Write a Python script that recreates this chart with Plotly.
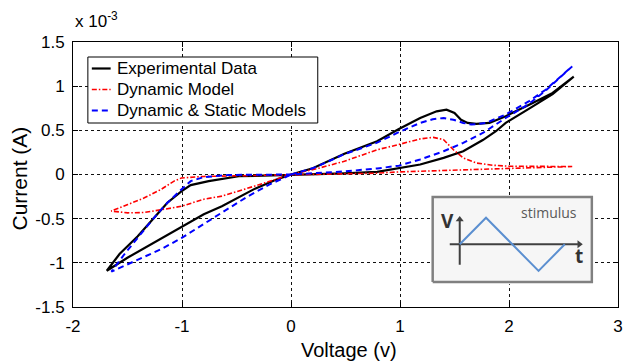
import plotly.graph_objects as go

# ---------------- data (current in units of 1e-3 A) ----------------
exp_v = [0, 0.2, 0.49, 0.79, 0.99, 1.185, 1.336, 1.427, 1.50, 1.56, 1.62, 1.70, 1.82, 1.97, 2.185, 2.40, 2.594,
         2.45, 2.40, 2.185, 1.97, 1.88, 1.76, 1.58, 1.40, 1.185, 0.99, 0.79, 0.49, 0.2, 0,
         -0.3, -0.48, -0.755, -0.92, -1.006, -1.134, -1.27, -1.406, -1.573, -1.69,
         -1.497, -1.194, -1.006, -0.80, -0.634, -0.33, -0.15, 0]
exp_i = [0, 0.07, 0.235, 0.376, 0.515, 0.64, 0.715, 0.734, 0.696, 0.62, 0.584, 0.573, 0.584, 0.66, 0.79, 0.923, 1.107,
         0.96, 0.91, 0.745, 0.584, 0.49, 0.39, 0.263, 0.188, 0.113, 0.068, 0.03, 0.012, 0.003, 0,
         -0.008, -0.02, -0.075, -0.12, -0.19, -0.32, -0.51, -0.70, -0.90, -1.09,
         -0.94, -0.725, -0.59, -0.45, -0.36, -0.16, -0.065, 0]

dyn_v = [0, 0.25, 0.49, 0.79, 0.99, 1.185, 1.305, 1.40, 1.49, 1.58, 1.70, 1.85, 2.0, 2.3, 2.58,
         2.3, 2.0, 1.7, 1.4, 1.0, 0.79, 0.49, 0.25, 0,
         -0.25, -0.5, -0.8, -1.006, -1.073, -1.194, -1.345, -1.497, -1.65,
         -1.497, -1.345, -1.194, -1.006, -0.80, -0.634, -0.33, 0]
dyn_i = [0, 0.07, 0.15, 0.28, 0.34, 0.403, 0.42, 0.395, 0.28, 0.188, 0.13, 0.105, 0.094, 0.09, 0.09,
         0.08, 0.07, 0.058, 0.045, 0.03, 0.015, 0.008, 0.003, 0,
         -0.005, -0.012, -0.022, -0.04, -0.075, -0.17, -0.264, -0.34, -0.414,
         -0.434, -0.43, -0.40, -0.36, -0.28, -0.245, -0.13, 0]

ds_v = [0, 0.2, 0.49, 0.79, 0.99, 1.185, 1.30, 1.40, 1.49, 1.58, 1.655, 1.79, 1.97, 2.185, 2.336, 2.58,
        2.336, 2.185, 1.97, 1.76, 1.58, 1.40, 1.185, 0.99, 0.79, 0.49, 0.2, 0,
        -0.3, -0.57, -0.80, -0.92, -1.006, -1.134, -1.27, -1.406, -1.527, -1.648,
        -1.497, -1.194, -1.006, -0.80, -0.6, -0.4, -0.2, 0]
ds_i = [0, 0.07, 0.23, 0.36, 0.48, 0.584, 0.625, 0.64, 0.62, 0.584, 0.565, 0.584, 0.68, 0.83, 0.96, 1.224,
        0.95, 0.80, 0.64, 0.47, 0.358, 0.263, 0.17, 0.10, 0.068, 0.035, 0.01, 0,
        -0.003, -0.005, -0.03, -0.075, -0.17, -0.32, -0.51, -0.716, -0.90, -1.10,
        -1.017, -0.847, -0.72, -0.56, -0.40, -0.25, -0.115, 0]

series_names = ["Experimental Data", "Dynamic Model", "Dynamic & Static Models"]

x_ticks = [-2, -1, 0, 1, 2, 3]
x_ticktext = ["-2", "-1", "0", "1", "2", "3"]
y_ticks = [-1.5, -1, -0.5, 0, 0.5, 1, 1.5]
y_ticktext = ["-1.5", "-1", "-0.5", "0", "0.5", "1", "1.5"]

# inset stimulus waveform
stim_t = [0, 1, 2, 3, 4]
stim_v = [0, 1, 0, -1, 0]

FONT = "Liberation Sans, Arial, sans-serif"

# plot area in pixels: left 73, right 623, top 42, bottom 307
L, R, T, B = 73, 623, 42, 307
def px(xp):
    return (xp - L) / (R - L)
def py(yp):
    return (B - yp) / (B - T)

styles = [
    dict(color="#000000", width=2.2, dash="solid"),
    dict(color="#ff0000", width=1.6, dash="5px,2px,1.5px,2px"),
    dict(color="#0000ff", width=2.0, dash="6px,4px"),
]

fig = go.Figure()
for (xv, yv), name, st in zip([(exp_v, exp_i), (dyn_v, dyn_i), (ds_v, ds_i)], series_names, styles):
    fig.add_trace(go.Scatter(x=xv, y=yv, mode="lines", name=name, line=st,
                             showlegend=False, hoverinfo="skip"))

# inset background (frame), axes with arrowheads, and stimulus waveform
inset = dict(xaxis="x2", yaxis="y2", showlegend=False, hoverinfo="skip")
fig.add_trace(go.Scatter(x=[-1.03, 5.03, 5.03, -1.03, -1.03], y=[-1.417, -1.417, 1.778, 1.778, -1.417],
                         mode="lines", fill="toself", fillcolor="#f6f6f6",
                         line=dict(color="#808080", width=2.5), **inset))
fig.add_trace(go.Scatter(x=[0, 0], y=[-0.77, 0.9], mode="lines",
                         line=dict(color="#404040", width=2), **inset))
fig.add_trace(go.Scatter(x=[-0.38, 4.5], y=[0, 0], mode="lines",
                         line=dict(color="#404040", width=2), **inset))
fig.add_trace(go.Scatter(x=[0], y=[0.93], mode="markers",
                         marker=dict(symbol="triangle-up", size=7, color="#404040"), **inset))
fig.add_trace(go.Scatter(x=[4.55], y=[0], mode="markers",
                         marker=dict(symbol="triangle-right", size=7, color="#404040"), **inset))
fig.add_trace(go.Scatter(x=stim_t, y=stim_v, mode="lines", line=dict(color="#5b8fd0", width=2), **inset))

axis_common = dict(showline=True, linecolor="black", linewidth=1, mirror="ticks",
                   ticks="inside", ticklen=5, tickcolor="black", tickwidth=1,
                   showgrid=True, gridcolor="#111111", gridwidth=1, griddash="3px,3px",
                   zeroline=False, tickfont=dict(family=FONT, size=17, color="black"))
hidden = dict(showticklabels=False, showgrid=False, zeroline=False, showline=False, ticks="")

fig.update_layout(
    width=628, height=363,
    margin=dict(l=L, r=628 - R, t=T, b=363 - B),
    paper_bgcolor="white", plot_bgcolor="white",
    font=dict(family=FONT, color="black"),
    xaxis=dict(range=[-2, 3], tickvals=x_ticks, ticktext=x_ticktext, ticklabelstandoff=4, **axis_common),
    yaxis=dict(range=[-1.5, 1.5], tickvals=y_ticks, ticktext=y_ticktext, ticklabelstandoff=4, **axis_common),
    xaxis2=dict(domain=[0.6566, 0.9554], range=[-1.1, 5.1], anchor="y2", **hidden),
    yaxis2=dict(domain=[0.086, 0.4223], range=[-1.5, 1.85], anchor="x2", **hidden),
    showlegend=False,
)

# ---- manual legend (MATLAB style) ----
shapes = [dict(type="rect", xref="paper", yref="paper", x0=px(88), x1=px(320), y0=py(123), y1=py(57),
               line=dict(color="black", width=1), fillcolor="white", layer="above")]
rows = [68.5, 89.5, 110.5]
annotations = []
for name, st, yr in zip(series_names, styles, rows):
    shapes.append(dict(type="line", xref="paper", yref="paper", x0=px(92), x1=px(111), y0=py(yr), y1=py(yr),
                       line=dict(color=st["color"], width=st["width"], dash=st["dash"]), layer="above"))
    annotations.append(dict(text=name, xref="paper", yref="paper", x=px(115), y=py(yr), xanchor="left",
                            yanchor="middle", showarrow=False, font=dict(family=FONT, size=17, color="black")))

# axis titles and exponent
annotations += [
    dict(text="Voltage (v)", xref="paper", yref="paper", x=px(352), y=py(350), xanchor="center", yanchor="middle",
         showarrow=False, font=dict(family=FONT, size=20, color="black")),
    dict(text="Current (A)", xref="paper", yref="paper", x=px(19), y=py(178), xanchor="center", yanchor="middle",
         textangle=-90, showarrow=False, font=dict(family=FONT, size=21, color="black")),
    dict(text="x 10<sup>-3</sup>", xref="paper", yref="paper", x=px(73), y=py(33), xanchor="left", yanchor="bottom",
         showarrow=False, font=dict(family=FONT, size=17, color="black")),
]

# inset labels
annotations += [
    dict(text="<b>V</b>", x=-0.48, y=0.88, xref="x2", yref="y2", showarrow=False,
         font=dict(family="Open Sans, sans-serif", size=19, color="#333333")),
    dict(text="<b>t</b>", x=4.55, y=-0.45, xref="x2", yref="y2", showarrow=False,
         font=dict(family="Open Sans, sans-serif", size=19, color="#333333")),
    dict(text="stimulus", x=3.4, y=1.2, xref="x2", yref="y2", showarrow=False,
         font=dict(family="Open Sans, sans-serif", size=14, color="#595959")),
]

fig.update_layout(shapes=shapes, annotations=annotations)
fig.write_html("out.html")
